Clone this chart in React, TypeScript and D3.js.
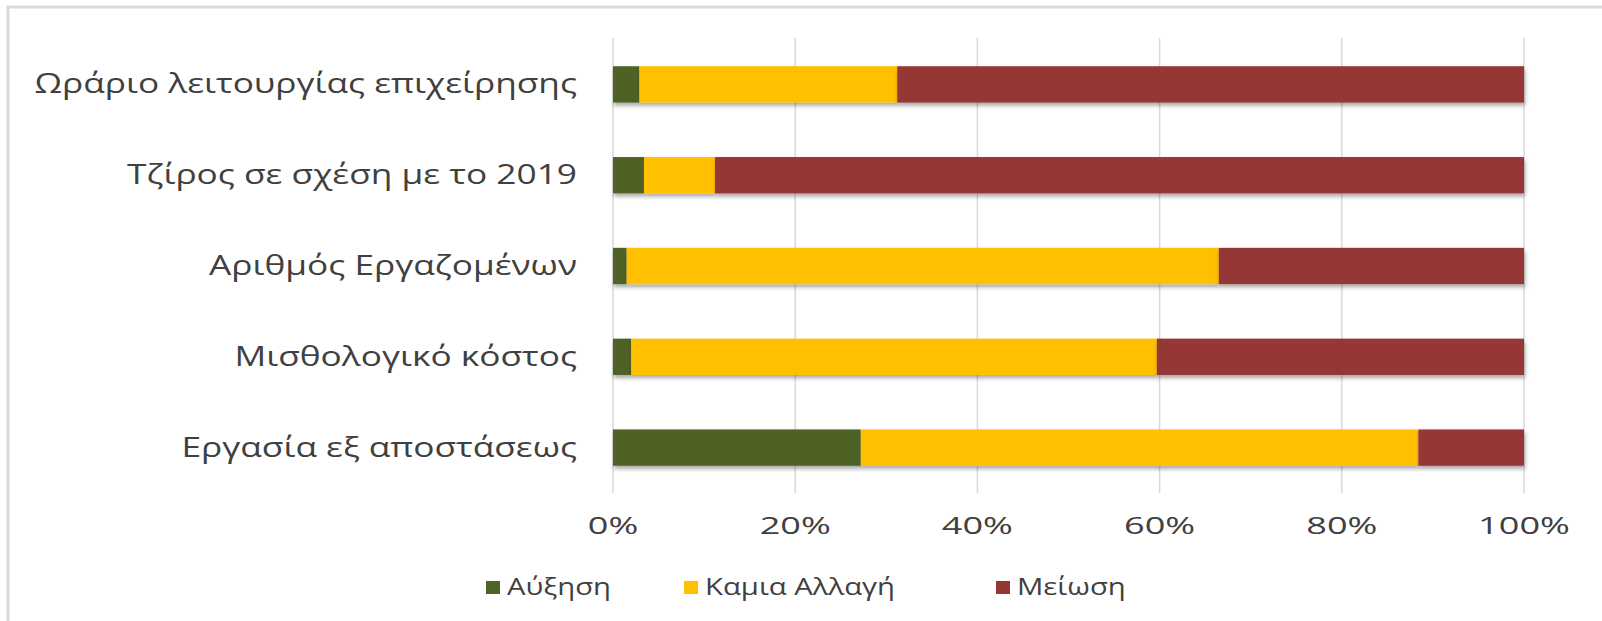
import React from 'react';
import * as d3 from 'd3';

const categories = [
  'Ωράριο λειτουργίας επιχείρησης',
  'Τζίρος σε σχέση με το 2019',
  'Αριθμός Εργαζομένων',
  'Μισθολογικό κόστος',
  'Εργασία εξ αποστάσεως',
];
const seriesNames = ['Αύξηση', 'Καμια Αλλαγή', 'Μείωση'];
const increase = [2.9, 3.4, 1.5, 2.0, 27.2];
const noChange = [28.3, 7.8, 65.0, 57.7, 61.2];
const decrease = [68.8, 88.8, 33.5, 40.3, 11.6];
const tickValues = [0, 20, 40, 60, 80, 100];
const colors = ['#4F6228', '#FFC000', '#953735'];

const W = 1602;
const H = 621;
const FONT = "'Open Sans', sans-serif";
const TEXT = '#404040';

export default function App() {
  React.useEffect(() => {
    document.body.style.margin = '0';
  }, []);

  const rows = categories.map((c, i) => ({
    cat: c,
    [seriesNames[0]]: increase[i],
    [seriesNames[1]]: noChange[i],
    [seriesNames[2]]: decrease[i],
  }));
  const stacked = d3.stack<any>().keys(seriesNames)(rows);

  const x = d3.scaleLinear().domain([0, 100]).range([613, 1524]);
  const y = d3.scaleBand().domain(categories).range([39, 493]).paddingInner(0.6).paddingOuter(0.3);

  const legendX = [486, 684, 996];

  return (
    <svg width={W} height={H} style={{ display: 'block', background: '#fff' }}>
      <defs>
        <filter id="shadow" x="-5%" y="-30%" width="110%" height="180%">
          <feDropShadow dx="1" dy="3" stdDeviation="2" floodColor="#000" floodOpacity="0.35" />
        </filter>
      </defs>
      <rect x={8} y={7} width={W + 10} height={H + 10} fill="#fff" stroke="#d9d9d9" strokeWidth={3} />
      {tickValues.map((t) => (
        <line key={t} x1={x(t)} x2={x(t)} y1={38} y2={493} stroke="#d9d9d9" strokeWidth={1.5} />
      ))}
      {stacked.map((s, si) => (
        <g key={s.key} fill={colors[si]} filter="url(#shadow)">
          {s.map((d, i) => (
            <rect key={i} x={x(d[0])} y={y(categories[i])} width={x(d[1]) - x(d[0])} height={y.bandwidth()} />
          ))}
        </g>
      ))}
      {categories.map((c) => (
        <text
          key={c}
          transform={`translate(577,${(y(c) as number) + y.bandwidth() / 2 + 9}) scale(1.26,1)`}
          textAnchor="end"
          fontFamily={FONT}
          fontSize={28}
          fill={TEXT}
        >
          {c}
        </text>
      ))}
      {tickValues.map((t) => (
        <text
          key={t}
          transform={`translate(${x(t)},534) scale(1.57,1)`}
          textAnchor="middle"
          fontFamily={FONT}
          fontSize={23}
          fill={TEXT}
        >
          {t + '%'}
        </text>
      ))}
      {seriesNames.map((n, i) => (
        <g key={n}>
          <rect x={legendX[i]} y={581} width={14} height={13} fill={colors[i]} />
          <text
            transform={`translate(${legendX[i] + 21},595) scale(1.22,1)`}
            fontFamily={FONT}
            fontSize={24}
            fill={TEXT}
          >
            {n}
          </text>
        </g>
      ))}
    </svg>
  );
}
